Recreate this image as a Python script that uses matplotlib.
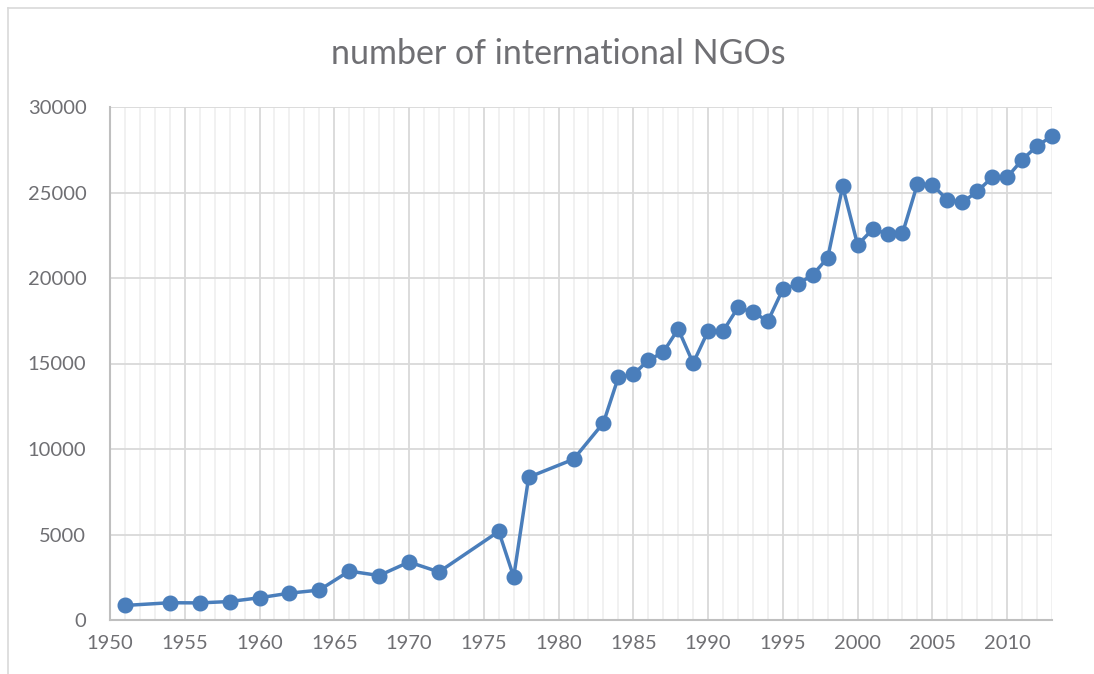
import matplotlib
matplotlib.use("Agg")
import matplotlib.pyplot as plt
from matplotlib.lines import Line2D
from matplotlib.ticker import MultipleLocator

years = [1951, 1954, 1956, 1958, 1960, 1962, 1964, 1966, 1968, 1970, 1972,
         1976, 1977, 1978, 1981, 1983, 1984, 1985, 1986, 1987, 1988, 1989,
         1990, 1991, 1992, 1993, 1994, 1995, 1996, 1997, 1998, 1999, 2000,
         2001, 2002, 2003, 2004, 2005, 2006, 2007, 2008, 2009, 2010, 2011,
         2012, 2013]
ngos = [850, 1010, 1000, 1080, 1300, 1570, 1750, 2860, 2600, 3390, 2810,
        5180, 2520, 8350, 9400, 11530, 14200, 14360, 15190, 15660, 17020, 15020,
        16900, 16890, 18280, 18000, 17480, 19340, 19640, 20190, 21180, 25360, 21940,
        22840, 22600, 22610, 25500, 25450, 24570, 24420, 25060, 25890, 25890, 26910,
        27720, 28300]

title = "number of international NGOs"
text_color = "#6f6f73"
line_color = "#4A7EBB"

plt.rcParams['font.family'] = ['Lato', 'DejaVu Sans']

W, H = 1094, 674
fig = plt.figure(figsize=(W / 100, H / 100), dpi=100)
ax = fig.add_axes([110 / W, 1 - 620 / H, (1052 - 110) / W, (620 - 107) / H])

ax.plot(years, ngos, color=line_color, lw=2.5, marker='o', ms=10.5,
        markerfacecolor=line_color, markeredgecolor=line_color, zorder=3,
        clip_on=False)

ax.set_xlim(1950, 2013)
ax.set_ylim(0, 30000)
ax.xaxis.set_major_locator(MultipleLocator(5))
ax.xaxis.set_minor_locator(MultipleLocator(1))
ax.yaxis.set_major_locator(MultipleLocator(5000))

ax.grid(which='major', axis='both', color='#D9D9D9', lw=1.3, zorder=0)
ax.grid(which='minor', axis='x', color='#F0F0F0', lw=1.3, zorder=0)
ax.set_axisbelow(True)

for s in ['top', 'right']:
    ax.spines[s].set_visible(False)
for s in ['left', 'bottom']:
    ax.spines[s].set_color('#BFBFBF')
    ax.spines[s].set_linewidth(1.5)

ax.tick_params(which='both', length=0, colors=text_color, labelsize=14.5)
ax.tick_params(axis='x', pad=11)
ax.tick_params(axis='y', pad=17)

fig.text(558 / W, 1 - 54 / H, title, ha='center', va='center',
         fontsize=24.5, color=text_color)

# chart area border
fig.add_artist(Line2D([8 / W, 8 / W], [0, 1 - 8 / H], transform=fig.transFigure,
                      color='#D9D9D9', lw=1.2))
fig.add_artist(Line2D([8 / W, 1], [1 - 8 / H, 1 - 8 / H], transform=fig.transFigure,
                      color='#D9D9D9', lw=1.2))

fig.savefig("out.png", dpi=100)
